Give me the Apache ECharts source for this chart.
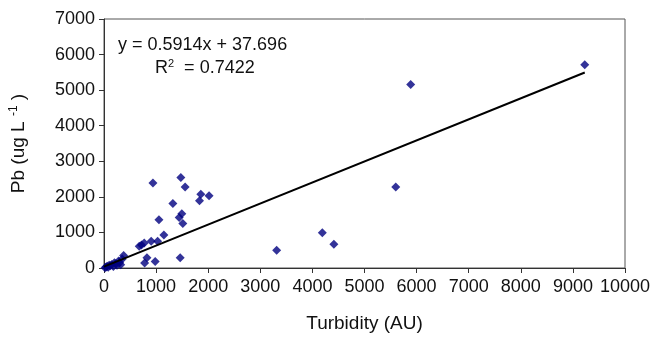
<!DOCTYPE html>
<html>
<head>
<meta charset="utf-8">
<script src="https://cdn.jsdelivr.net/npm/echarts@6/dist/echarts.min.js"></script>
<style>html,body{margin:0;padding:0;background:#fff}#c{width:654px;height:338px}</style>
</head>
<body>
<div id="c"></div>
<script>
// Turbidity (AU)
const turbidity = [20,40,60,80,100,120,150,180,200,230,250,280,300,320,350,377,
  676,720,772,906,1029,824,780,983,1462,1149,1054,1513,1443,1494,1322,1833,2017,1858,1557,1475,939,
  3314,4190,4412,5600,5887,9228];
// Pb (ug/L)
const pb = [10,30,50,20,80,60,100,40,150,120,80,200,150,90,250,352,
  611,650,703,750,750,286,139,186,286,925,1353,1250,1417,1528,1814,1889,2028,2075,2278,2547,2389,
  500,992,667,2278,5158,5714];
const slope = 0.5914, intercept = 37.696;
const trendX = [0, 9228];
const xTicks = [0,1000,2000,3000,4000,5000,6000,7000,8000,9000,10000];
const yTicks = [0,1000,2000,3000,4000,5000,6000,7000];

const chart = echarts.init(document.getElementById('c'));
const font = 'Liberation Sans, Arial, sans-serif';
chart.setOption({
  animation:false,
  grid:{left:102,right:29,top:19,bottom:67,show:true,borderColor:'#555',borderWidth:1},
  xAxis:{type:'value',min:xTicks[0],max:xTicks[xTicks.length-1],interval:xTicks[1]-xTicks[0],
    axisLine:{lineStyle:{color:'#333'}},axisTick:{show:true,length:5,lineStyle:{color:'#333'}},
    splitLine:{show:false},
    axisLabel:{color:'#111',fontSize:18,fontFamily:font,margin:10,formatter:v=>String(v)},
    name:'Turbidity (AU)',nameLocation:'middle',nameGap:46,
    nameTextStyle:{color:'#111',fontSize:19,fontFamily:font}},
  yAxis:{type:'value',min:yTicks[0],max:yTicks[yTicks.length-1],interval:yTicks[1]-yTicks[0],
    axisLine:{show:true,lineStyle:{color:'#333'}},axisTick:{show:true,length:5,lineStyle:{color:'#333'}},
    splitLine:{show:false},
    axisLabel:{color:'#111',fontSize:18,fontFamily:font,margin:9,formatter:v=>String(v)},
    name:'Pb (ug L {sup|-1} )',nameLocation:'middle',nameGap:74,
    nameTextStyle:{color:'#111',fontSize:19,fontFamily:font,
      rich:{sup:{fontSize:12,fontFamily:font,color:'#111',verticalAlign:'top',padding:[0,0,10,0]}}}},
  series:[
    {type:'scatter',data:turbidity.map((x,i)=>[x,pb[i]]),symbol:'diamond',symbolSize:9,
      itemStyle:{color:'#000080'},z:3},
    {type:'line',data:trendX.map(x=>[x,slope*x+intercept]),symbol:'none',
      lineStyle:{color:'#000',width:2},z:4}
  ],
  graphic:[
    {type:'text',left:118,top:36,style:{text:'y = 0.5914x + 37.696',font:'18px '+font,fill:'#111'}},
    {type:'text',left:155,top:58,style:{text:'R{s|2}  = 0.7422',font:'18px '+font,fill:'#111',
      rich:{s:{fontSize:11,fontFamily:font,fill:'#111',verticalAlign:'top',padding:[0,0,9,0]}}}}
  ]
});
</script>
</body>
</html>
